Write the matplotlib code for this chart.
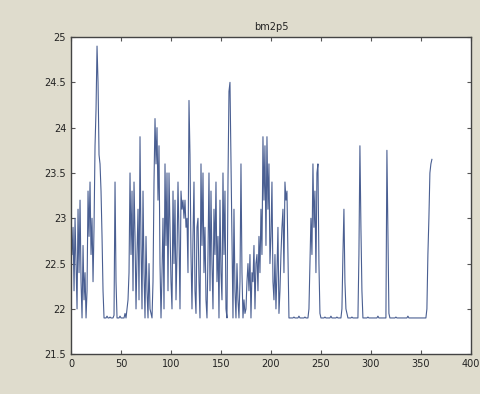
import matplotlib.pyplot as plt
from matplotlib.ticker import FormatStrFormatter

title = 'bm2p5'
x_ticks = [0, 50, 100, 150, 200, 250, 300, 350, 400]
y_ticks = [21.5, 22, 22.5, 23, 23.5, 24, 24.5, 25]

# one reading per sample
values = [
    22.6, 22.9, 22.2, 23.0, 22.5, 22.0, 23.1, 22.4, 23.2, 22.3,
    21.9, 22.7, 22.1, 22.4, 21.9, 22.2, 23.3, 22.8, 23.4, 22.6,
    23.0, 22.3, 22.9, 23.8, 24.2, 24.9, 24.5, 23.7, 23.6, 23.3,
    22.8, 22.2, 21.9, 21.9, 21.9, 21.92, 21.9, 21.9, 21.91, 21.9,
    21.9, 21.9, 21.93, 23.4, 22.3, 21.9, 21.9, 21.9, 21.92, 21.9,
    21.9, 21.9, 21.9, 21.95, 21.9, 22.0, 22.1, 22.4, 23.5, 22.6,
    23.3, 22.2, 23.4, 22.8, 22.0, 22.6, 23.1, 22.1, 23.9, 22.7,
    22.0, 23.3, 22.4, 21.9, 22.8, 22.2, 21.9, 22.5, 22.0, 21.95,
    21.9, 22.3, 23.4, 24.1, 23.6, 24.0, 23.2, 23.8, 22.5, 21.9,
    22.4, 23.0, 22.0, 23.6, 22.7, 23.5, 22.2, 23.5, 22.9, 22.3,
    22.0, 23.3, 22.5, 23.2, 22.1, 22.6, 23.4, 22.8, 22.0, 23.3,
    23.1, 23.2, 23.0, 23.2, 22.9, 23.0, 22.4, 24.3, 23.7, 22.6,
    22.0, 22.8, 23.4, 22.2, 21.95, 22.9, 23.0, 22.3, 21.9, 23.6,
    22.7, 23.5, 22.4, 22.9, 22.1, 21.9, 22.6, 23.5, 22.2, 23.3,
    22.5, 22.0, 23.1, 22.6, 23.4, 22.3, 22.8, 21.9, 23.2, 22.4,
    22.1, 23.5, 22.6, 23.3, 22.0, 21.9, 23.4, 24.4, 24.5, 23.6,
    22.8, 21.9, 23.1, 22.2, 21.9, 22.5, 22.1, 21.9, 22.3, 23.6,
    22.4, 21.9, 22.1, 21.95, 22.0, 22.3, 22.5, 22.2, 22.6, 21.9,
    22.4, 22.3, 22.7, 22.0, 22.5, 22.6, 22.2, 22.8, 22.4, 23.1,
    22.6, 23.9, 23.2, 23.8, 22.7, 23.9, 23.1, 23.6, 22.5, 22.8,
    23.4, 22.3, 22.1, 22.6, 22.0, 22.4, 22.9, 21.95, 22.2, 22.6,
    22.9, 23.1, 22.4, 23.4, 23.2, 23.3, 22.6, 21.9, 21.9, 21.9,
    21.9, 21.9, 21.91, 21.9, 21.9, 21.9, 21.9, 21.92, 21.9, 21.9,
    21.9, 21.9, 21.9, 21.91, 21.9, 21.9, 21.9,
    22.0, 22.5, 23.0, 22.6, 23.6, 22.9, 23.3, 22.4, 23.5, 23.6,
    22.5, 21.95, 21.9,
    21.9, 21.9, 21.9, 21.91, 21.9, 21.9, 21.9, 21.9, 21.9, 21.92,
    21.9, 21.9, 21.9, 21.9, 21.9, 21.91, 21.9, 21.9, 21.9, 21.9,
    22.0, 22.6, 23.1, 22.3, 22.0, 21.95,
    21.9, 21.9, 21.9, 21.9, 21.91, 21.9, 21.9, 21.9, 21.9, 21.9, 21.9,
    22.6, 23.8, 22.9, 22.2,
    21.9, 21.9, 21.9, 21.9, 21.9, 21.91, 21.9, 21.9, 21.9, 21.9, 21.9, 21.9,
    21.9, 21.9, 21.9, 21.92, 21.9, 21.9, 21.9, 21.9, 21.9, 21.9, 21.9, 21.9,
    23.75, 22.8, 21.95,
    21.9, 21.9, 21.9, 21.9, 21.9, 21.9, 21.91, 21.9, 21.9, 21.9,
    21.9, 21.9, 21.9, 21.9, 21.9, 21.9, 21.9, 21.9, 21.92, 21.9,
    21.9, 21.9, 21.9, 21.9, 21.9, 21.9, 21.9, 21.9, 21.9, 21.9,
    21.9, 21.9, 21.9, 21.9, 21.9, 21.9, 21.9,
    22.0, 22.6, 23.0, 23.5, 23.6, 23.65,
]
samples = list(range(1, len(values) + 1))

fig = plt.figure(figsize=(4.8, 3.94), dpi=100, facecolor='#dfdccd')
ax = fig.add_axes([0.148, 0.101, 0.833, 0.805])
ax.plot(samples, values, color='#4a5f92', linewidth=0.8)

ax.set_xlim(0, 400)
ax.set_ylim(21.5, 25)
ax.set_xticks(x_ticks)
ax.set_yticks(y_ticks)
ax.yaxis.set_major_formatter(FormatStrFormatter('%g'))
ax.tick_params(direction='in', top=True, right=True, labelsize=7, length=3,
               color='#555555', labelcolor='#222222')
for spine in ax.spines.values():
    spine.set_color('#444444')
    spine.set_linewidth(1.0)
ax.set_title(title, fontsize=7, color='#222222', pad=5)

fig.savefig('out.png', dpi=100, facecolor=fig.get_facecolor())
